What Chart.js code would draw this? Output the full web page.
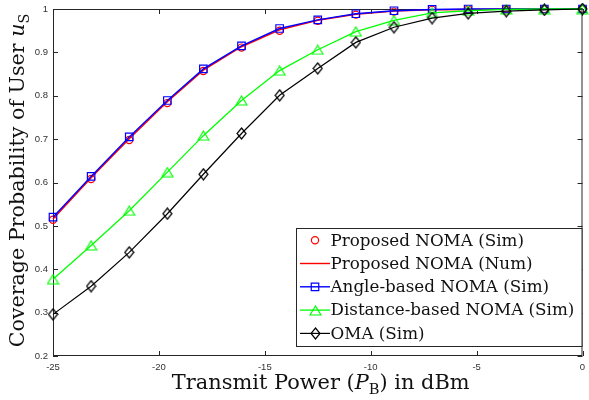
<!DOCTYPE html>
<html>
<head>
<meta charset="utf-8">
<script src="https://cdn.jsdelivr.net/npm/chart.js@4.4.0/dist/chart.umd.min.js"></script>
<style>
  html, body { margin: 0; padding: 0; background: #fff; }
  #wrap { width: 589px; height: 400px; position: relative; }
</style>
</head>
<body>
<div id="wrap"><canvas id="coverageChart"></canvas></div>
<script>
// ─── DATA ────────────────────────────────────────────────────────
const powerDbm    = [-25, -23.2, -21.4, -19.6, -17.9, -16.1, -14.3, -12.5, -10.7, -8.9, -7.1, -5.4, -3.6, -1.8, 0];
const proposedSim = [0.514, 0.608, 0.698, 0.783, 0.857, 0.911, 0.950, 0.973, 0.987, 0.994, 0.998, 0.999, 1.000, 1.000, 1.000];
const proposedNum = [0.516, 0.611, 0.701, 0.786, 0.859, 0.913, 0.952, 0.974, 0.988, 0.995, 0.998, 0.999, 1.000, 1.000, 1.000];
const angleSim    = [0.520, 0.614, 0.705, 0.789, 0.862, 0.915, 0.955, 0.975, 0.989, 0.996, 0.999, 1.000, 1.000, 1.000, 1.000];
const distanceSim = [0.377, 0.455, 0.535, 0.624, 0.708, 0.789, 0.858, 0.906, 0.948, 0.974, 0.991, 0.996, 0.999, 1.000, 1.000];
const omaSim      = [0.296, 0.361, 0.439, 0.528, 0.619, 0.713, 0.801, 0.863, 0.923, 0.958, 0.979, 0.990, 0.995, 0.998, 1.000];

const seriesLabels = [
  'Proposed NOMA (Sim)',
  'Proposed NOMA (Num)',
  'Angle-based NOMA (Sim)',
  'Distance-based NOMA (Sim)',
  'OMA (Sim)',
];
const xTicks = [-25, -20, -15, -10, -5, 0];
const yTicks = [0.2, 0.3, 0.4, 0.5, 0.6, 0.7, 0.8, 0.9, 1];

const AXIS_COLOR = '#262626';
const SANS       = "'Liberation Sans', Arial, sans-serif";
const SERIF      = "'DejaVu Serif', 'Liberation Serif', serif";

// ─── MARKER IMAGES (MATLAB-style triangle / diamond) ─────────────
function markerCanvas(w, h, color, pathFn) {
  const c = document.createElement('canvas');
  c.width = w; c.height = h;
  const g = c.getContext('2d');
  g.strokeStyle = color;
  g.lineWidth = 1.2;
  g.beginPath();
  pathFn(g, w, h);
  g.closePath();
  g.stroke();
  return c;
}
const triangleImg = markerCanvas(13, 11, '#00ff00', (g, w, h) => {
  g.moveTo(w / 2, 1); g.lineTo(w - 1, h - 1); g.lineTo(1, h - 1);
});
const diamondImg = markerCanvas(11, 13, '#000000', (g, w, h) => {
  g.moveTo(w / 2, 1); g.lineTo(w - 1, h / 2); g.lineTo(w / 2, h - 1); g.lineTo(1, h / 2);
});

const toPoints = ys => powerDbm.map((x, i) => ({ x, y: ys[i] }));

// ─── RICH TEXT HELPER (italic / subscript pieces) ────────────────
function richWidth(ctx, parts, size) {
  return parts.reduce((w, p) => {
    ctx.font = `${p.italic ? 'italic ' : ''}${p.sub ? size * 0.7 : size}px ${SERIF}`;
    return w + ctx.measureText(p.t).width;
  }, 0);
}
function drawRich(ctx, parts, size, cx, baseY) {
  let x = cx - richWidth(ctx, parts, size) / 2;
  ctx.textAlign = 'left';
  ctx.textBaseline = 'alphabetic';
  parts.forEach(p => {
    ctx.font = `${p.italic ? 'italic ' : ''}${p.sub ? size * 0.7 : size}px ${SERIF}`;
    ctx.fillText(p.t, x, baseY + (p.sub ? size * 0.22 : 0));
    x += ctx.measureText(p.t).width;
  });
}
const fitSize = (ctx, parts, target) => 100 * target / richWidth(ctx, parts, 100);

const xTitle = [
  { t: 'Transmit Power (' }, { t: 'P', italic: true }, { t: 'B', sub: true }, { t: ') in dBm' },
];
const yTitle = [
  { t: 'Coverage Probability of User ' }, { t: 'u', italic: true }, { t: 'S', sub: true },
];

// ─── PLUGINS ─────────────────────────────────────────────────────
// Box around the axes with inward tick marks on all four sides, plus axis titles
const framePlugin = {
  id: 'frame',
  beforeDatasetsDraw(chart) {
    const { ctx, chartArea: a, scales } = chart;
    ctx.save();
    ctx.strokeStyle = AXIS_COLOR;
    ctx.lineWidth = 1;
    ctx.strokeRect(a.left + 0.5, a.top + 0.5, a.right - a.left - 1, a.bottom - a.top - 1);
    ctx.beginPath();
    xTicks.forEach(v => {
      const px = Math.round(scales.x.getPixelForValue(v)) + 0.5;
      ctx.moveTo(px, a.bottom); ctx.lineTo(px, a.bottom - 5);
      ctx.moveTo(px, a.top);    ctx.lineTo(px, a.top + 5);
    });
    yTicks.forEach(v => {
      const py = Math.round(scales.y.getPixelForValue(v)) + 0.5;
      ctx.moveTo(a.left, py);  ctx.lineTo(a.left + 5, py);
      ctx.moveTo(a.right, py); ctx.lineTo(a.right - 5, py);
    });
    ctx.stroke();
    ctx.restore();
  },
  afterDraw(chart) {
    const { ctx, chartArea: a } = chart;
    ctx.save();
    ctx.fillStyle = '#111';
    drawRich(ctx, xTitle, fitSize(ctx, xTitle, 298), (a.left + a.right) / 2 + 3, 389);
    ctx.translate(24, (a.top + a.bottom) / 2 - 2);
    ctx.rotate(-Math.PI / 2);
    drawRich(ctx, yTitle, fitSize(ctx, yTitle, 334), 0, 0);
    ctx.restore();
  },
};

// Legend box in the lower right corner, drawn like MATLAB's
const legendPlugin = {
  id: 'matlabLegend',
  afterDraw(chart) {
    const { ctx, chartArea: a } = chart;
    const box = { left: 296.5, top: 228.5, right: a.right - 0.5, bottom: 346.5 };
    const rowH = 23.3;
    ctx.save();
    ctx.font = `100px ${SERIF}`;
    const size = 100 * 244 / ctx.measureText(seriesLabels[3]).width;
    ctx.fillStyle = '#fff';
    ctx.fillRect(box.left, box.top, box.right - box.left, box.bottom - box.top);
    ctx.strokeStyle = AXIS_COLOR;
    ctx.lineWidth = 1;
    ctx.strokeRect(box.left, box.top, box.right - box.left, box.bottom - box.top);

    chart.data.datasets.forEach((ds, i) => {
      const cy = box.top + 11.7 + i * rowH;
      const mx = box.left + 18.5;
      if (ds.showLine !== false) {
        ctx.strokeStyle = ds.borderColor;
        ctx.lineWidth = ds.borderWidth;
        ctx.beginPath();
        ctx.moveTo(box.left + 3.5, cy); ctx.lineTo(box.left + 33.5, cy);
        ctx.stroke();
      }
      if (ds.pointRadius > 0) {
        if (ds.pointStyle instanceof HTMLCanvasElement) {
          ctx.drawImage(ds.pointStyle, Math.round(mx - ds.pointStyle.width / 2), Math.round(cy - ds.pointStyle.height / 2));
        } else {
          ctx.strokeStyle = ds.pointBorderColor;
          ctx.lineWidth = ds.pointBorderWidth;
          ctx.fillStyle = 'rgba(0,0,0,0)';
          Chart.helpers.drawPoint(ctx, { pointStyle: ds.pointStyle, radius: ds.pointRadius, borderWidth: ds.pointBorderWidth }, mx, cy);
        }
      }
      ctx.fillStyle = '#111';
      ctx.font = `${size}px ${SERIF}`;
      ctx.textAlign = 'left';
      ctx.textBaseline = 'middle';
      ctx.fillText(seriesLabels[i], box.left + 34, cy + 1);
    });
    ctx.restore();
  },
};

// ─── CHART ───────────────────────────────────────────────────────
const lineDefaults = { tension: 0, clip: false, fill: false, pointHoverRadius: 0 };

new Chart(document.getElementById('coverageChart'), {
  type: 'line',
  data: {
    datasets: [
      { ...lineDefaults, label: seriesLabels[0], data: toPoints(proposedSim), order: 5,
        showLine: false, borderColor: '#ff0000', borderWidth: 1.2,
        pointStyle: 'circle', pointRadius: 3.6, pointBorderColor: '#ff0000',
        pointBackgroundColor: 'rgba(0,0,0,0)', pointBorderWidth: 1.2 },
      { ...lineDefaults, label: seriesLabels[1], data: toPoints(proposedNum), order: 4,
        borderColor: '#ff0000', borderWidth: 1.4, pointRadius: 0 },
      { ...lineDefaults, label: seriesLabels[2], data: toPoints(angleSim), order: 3,
        borderColor: '#0000ff', borderWidth: 1.4,
        pointStyle: 'rect', pointRadius: 5.3, pointBorderColor: '#0000ff',
        pointBackgroundColor: 'rgba(0,0,0,0)', pointBorderWidth: 1.2 },
      { ...lineDefaults, label: seriesLabels[3], data: toPoints(distanceSim), order: 2,
        borderColor: '#00ff00', borderWidth: 1.3,
        pointStyle: triangleImg, pointRadius: 5, pointBorderColor: '#00ff00' },
      { ...lineDefaults, label: seriesLabels[4], data: toPoints(omaSim), order: 1,
        borderColor: '#000000', borderWidth: 1.2,
        pointStyle: diamondImg, pointRadius: 5, pointBorderColor: '#000000' },
    ],
  },
  options: {
    responsive: true,
    maintainAspectRatio: false,
    animation: false,
    events: [],
    layout: { padding: { top: 9, right: 1, left: 0, bottom: 0 } },
    plugins: { legend: { display: false }, tooltip: { enabled: false } },
    scales: {
      x: {
        type: 'linear', min: -25, max: 0,
        grid: { display: false, drawTicks: false },
        border: { display: false },
        afterBuildTicks: s => { s.ticks = xTicks.map(v => ({ value: v })); },
        ticks: { color: '#333', font: { family: SANS, size: 9.5 },
                 padding: 6, maxRotation: 0, autoSkip: false, callback: v => String(v) },
        afterFit: s => { s.height = 44; s.paddingLeft = 0; s.paddingRight = 0; },
      },
      y: {
        type: 'linear', min: 0.2, max: 1,
        grid: { display: false, drawTicks: false },
        border: { display: false },
        afterBuildTicks: s => { s.ticks = yTicks.map(v => ({ value: v })); },
        ticks: { color: '#333', font: { family: SANS, size: 9.5 },
                 padding: 5, autoSkip: false, callback: v => String(+v.toFixed(1)) },
        afterFit: s => { s.width = 53; s.paddingTop = 0; s.paddingBottom = 0; },
      },
    },
  },
  plugins: [framePlugin, legendPlugin],
});
</script>
</body>
</html>
